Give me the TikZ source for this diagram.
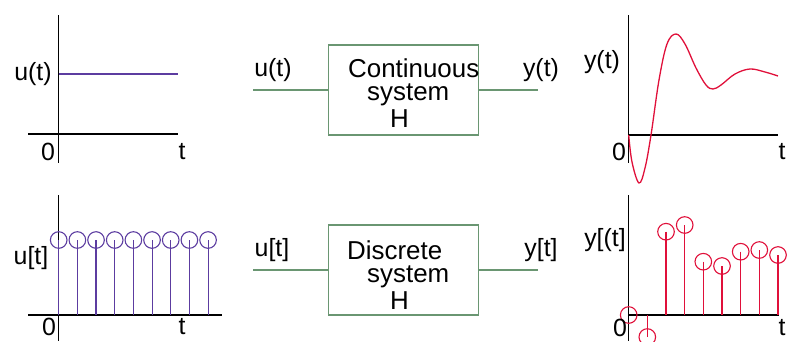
\documentclass[tikz,border=0pt]{standalone}
\usepackage{fontspec}
\setmainfont{Liberation Sans}
\definecolor{sigpurple}{RGB}{92,60,160}
\definecolor{sigred}{RGB}{224,16,58}
\definecolor{boxgreen}{RGB}{106,150,114}
\begin{document}
\begin{tikzpicture}[x=1bp,y=-1bp,
  lbl/.style={inner sep=0pt,font=\fontsize{25}{23}\selectfont},
  boxtxt/.style={inner sep=0pt,anchor=north west,align=left,font=\fontsize{26}{23}\selectfont},
  axis/.style={line width=1.4bp,black},
  sysbox/.style={draw=boxgreen,line width=1.2bp,minimum width=150bp,minimum height=90bp,inner sep=0pt},
  wire/.style={boxgreen,line width=1.4bp},
  pstem/.style={sigpurple,line width=1.1bp},
  rstem/.style={sigred,line width=1.1bp}]
\useasboundingbox (0,0) rectangle (787,341);
% ---------- top-left: continuous step ----------
\draw[axis] (58.5,15) -- (58.5,163);
\draw[axis] (28,134) -- (178,134);
\draw[sigpurple,line width=1.4bp] (58.5,74) -- (178,74);
\node[lbl] (ut1) at (33,74) {u(t)};
\node[lbl] (z1) at (48,152) {0};
\node[lbl] (t1) at (182,152) {t};
% ---------- bottom-left: discrete step ----------
\draw[axis] (58.5,195) -- (58.5,341);
\draw[axis] (28,315) -- (222,315);
\foreach \i in {0,...,8}{
  \draw[pstem] (58.7+18.67*\i,240) -- (58.7+18.67*\i,315);
  \draw[pstem] (58.7+18.67*\i,240) circle[radius=8.3bp];
}
\node[lbl] (ut2) at (31,258) {u[t]};
\node[lbl] (z2) at (49,327) {0};
\node[lbl] (t2) at (182,327) {t};
% ---------- middle top: continuous system ----------
\node[sysbox] (cs) at (403.3,90) {};
\coordinate (cin) at (253,90);
\coordinate (cout) at (538,90);
\draw[wire] (cin) -- (cs.west);
\draw[wire] (cs.east) -- (cout);
\node[lbl] (cu) at (273,70) {u(t)};
\node[lbl] (cy) at (541,70) {y(t)};
\node[boxtxt] (cl) at (348,58.5) {Continuous\\\hspace*{19bp}system\\[3bp]\hspace*{42bp}H};
% ---------- middle bottom: discrete system ----------
\node[sysbox] (ds) at (403.3,270) {};
\coordinate (din) at (253,270);
\coordinate (dout) at (538,270);
\draw[wire] (din) -- (ds.west);
\draw[wire] (ds.east) -- (dout);
\node[lbl] (du) at (272,250) {u[t]};
\node[lbl] (dy) at (541,250) {y[t]};
\node[boxtxt] (dl) at (347,240.5) {Discrete\\\hspace*{20bp}system\\[3bp]\hspace*{43bp}H};
% ---------- top-right: continuous response ----------
\draw[axis] (628.7,15) -- (628.7,163);
\draw[axis] (628.7,135) -- (778,135);
\draw[sigred,line width=1.3bp] plot[smooth,tension=0.6] coordinates {
  (628.7,135) (632,162) (639,183) (645,168) (651,135) (659,80) (667,44)
  (676,34) (685,44) (696,68) (706,85) (713,89) (721,85) (735,74)
  (750,69) (765,72) (778,76)};
\node[lbl] (yt1) at (602,62) {y(t)};
\node[lbl] (z3) at (619,152) {0};
\node[lbl] (t3) at (782,152) {t};
% ---------- bottom-right: discrete response ----------
\draw[axis] (628.7,195) -- (628.7,341);
\draw[axis] (628.7,315) -- (779,315);
\foreach \x/\y in {628.7/315,647.3/337,666/231.7,684.7/225,703.3/261.7,722/266,740.7/251.7,759.3/250,778/255}{
  \draw[rstem] (\x,\y) -- (\x,315);
  \draw[rstem] (\x,\y) circle[radius=8.3bp];
}
\node[lbl] (yt2) at (605,240) {y[(t]};
\node[lbl] (z4) at (620,328) {0};
\node[lbl] (t4) at (782,328) {t};
\end{tikzpicture}
\end{document}
